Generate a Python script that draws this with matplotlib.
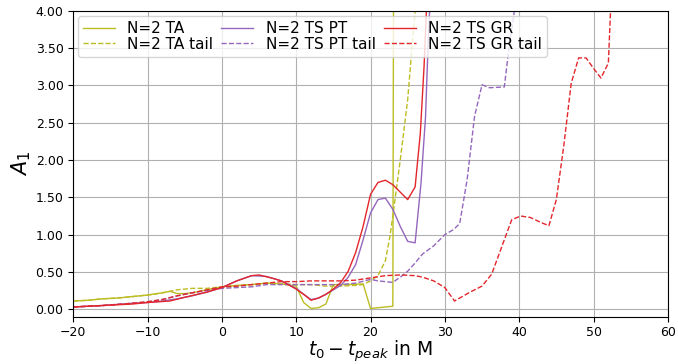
import matplotlib
matplotlib.use("Agg")
import matplotlib.pyplot as plt

# ---- values ----
ta_x = [-20, -18, -16, -14, -12, -10, -8, -7, -6, -5, -4, -2, 0, 2, 4, 6, 8, 10,
        11, 12, 13, 14, 15, 17, 19, 20, 23, 23.1]
ta_y = [0.11, 0.12, 0.14, 0.15, 0.17, 0.19, 0.22, 0.24, 0.21, 0.21, 0.22, 0.26, 0.30,
        0.32, 0.33, 0.35, 0.34, 0.31, 0.09, 0.01, 0.02, 0.07, 0.33, 0.33, 0.34, 0.01,
        0.04, 4.5]

ta_tail_x = [-20, -18, -16, -14, -12, -10, -8, -7, -6, -5, -4, -2, 0, 2, 4, 6, 8, 10,
             12, 14, 16, 18, 19, 20, 21, 22, 22.6, 23, 24, 25, 25.7, 26.2]
ta_tail_y = [0.11, 0.12, 0.14, 0.15, 0.17, 0.19, 0.22, 0.24, 0.26, 0.27, 0.28, 0.28,
             0.30, 0.31, 0.33, 0.35, 0.34, 0.33, 0.33, 0.31, 0.31, 0.32, 0.33, 0.38,
             0.45, 0.65, 0.97, 1.25, 2.00, 2.81, 3.66, 4.2]

pt_x = [-20, -16, -12, -10, -8, -6, -4, -2, 0, 2, 4, 6, 8, 10, 11, 12, 13, 14, 15,
        16, 17, 18, 19, 20, 21, 22, 23, 24, 25, 26, 26.8, 27.4, 27.8, 28.2]
pt_y = [0.03, 0.05, 0.08, 0.09, 0.11, 0.14, 0.18, 0.23, 0.29, 0.38, 0.45, 0.44, 0.38,
        0.28, 0.20, 0.13, 0.15, 0.20, 0.26, 0.32, 0.43, 0.60, 0.93, 1.29, 1.47, 1.49,
        1.34, 1.11, 0.91, 0.89, 1.70, 2.58, 3.70, 4.5]

pt_tail_x = [-20, -16, -12, -10, -8, -6, -4, -2, 0, 2, 4, 6, 8, 10, 12, 14, 16, 18,
             20, 21, 23, 24, 25, 26, 27, 28.5, 30, 31.2, 32, 33, 34, 35, 36, 38, 38.6,
             39.3, 39.6]
pt_tail_y = [0.03, 0.05, 0.08, 0.10, 0.13, 0.18, 0.22, 0.25, 0.28, 0.29, 0.30, 0.33,
             0.33, 0.33, 0.33, 0.33, 0.33, 0.35, 0.40, 0.38, 0.36, 0.43, 0.51, 0.62,
             0.74, 0.85, 1.00, 1.07, 1.15, 1.74, 2.59, 3.01, 2.97, 2.98, 3.48, 3.96, 4.5]

gr_x = [-20, -16, -12, -10, -7, -5, -2, 0, 2, 4, 5, 7, 8, 10, 11, 12, 13, 14, 15, 16,
        17, 18, 19, 20, 21, 22, 23, 24, 25, 26, 26.7, 27.2, 27.6]
gr_y = [0.03, 0.05, 0.07, 0.09, 0.11, 0.16, 0.23, 0.29, 0.38, 0.45, 0.46, 0.41, 0.38,
        0.27, 0.20, 0.12, 0.15, 0.20, 0.27, 0.36, 0.51, 0.76, 1.11, 1.54, 1.70, 1.73,
        1.67, 1.57, 1.47, 1.64, 2.36, 3.25, 4.2]

gr_tail_x = [-20, -16, -12, -10, -8, -6, -4, -2, 0, 2, 4, 6, 8, 10, 12, 14, 16, 18, 20,
             22, 24, 26, 27, 28.5, 30, 31.3, 32, 33.4, 35, 36.3, 37.7, 39, 40.2, 41.5,
             43, 44, 45, 46, 47, 48, 49, 50, 51, 52, 52.5]
gr_tail_y = [0.03, 0.05, 0.08, 0.10, 0.13, 0.18, 0.22, 0.26, 0.30, 0.31, 0.33, 0.35,
             0.37, 0.37, 0.38, 0.38, 0.38, 0.39, 0.42, 0.45, 0.46, 0.45, 0.43, 0.38,
             0.29, 0.11, 0.15, 0.23, 0.31, 0.47, 0.85, 1.20, 1.25, 1.23, 1.16, 1.12,
             1.47, 2.19, 3.03, 3.37, 3.37, 3.23, 3.10, 3.30, 4.5]

x_ticks = [-20, -10, 0, 10, 20, 30, 40, 50, 60]

OLIVE = "#bcbd22"
PURPLE = "#9467bd"
RED = "#e3262b"

fig, ax = plt.subplots(figsize=(6.78, 3.64), dpi=100)
fig.subplots_adjust(left=0.108, right=0.985, top=0.97, bottom=0.13)

ax.plot(ta_x, ta_y, color=OLIVE, lw=1, label="N=2 TA")
ax.plot(ta_tail_x, ta_tail_y, color=OLIVE, lw=1, ls="--", label="N=2 TA tail")
ax.plot(pt_x, pt_y, color=PURPLE, lw=1, label="N=2 TS PT")
ax.plot(pt_tail_x, pt_tail_y, color=PURPLE, lw=1, ls="--", label="N=2 TS PT tail")
ax.plot(gr_x, gr_y, color=RED, lw=1, label="N=2 TS GR")
ax.plot(gr_tail_x, gr_tail_y, color=RED, lw=1, ls="--", label="N=2 TS GR tail")

ax.set_xlim(-20, 60)
ax.set_ylim(-0.1, 4.0)
ax.set_xticks(x_ticks)
ax.set_yticks([0.5 * i for i in range(9)])
ax.yaxis.set_major_formatter(matplotlib.ticker.FormatStrFormatter("%.2f"))
ax.tick_params(labelsize=9)
ax.grid(True)

ax.set_xlabel(r"$t_0 - t_{peak}$ in M", fontsize=13.5)
ax.xaxis.set_label_coords(0.5, -0.07)
ax.set_ylabel(r"$A_1$", fontsize=15, labelpad=2)
ax.legend(loc="upper left", ncol=3, fontsize=11, handlelength=2.1,
          labelspacing=0.05, columnspacing=0.52, borderpad=0.35, borderaxespad=0.3)

fig.savefig("out.png", dpi=100)
